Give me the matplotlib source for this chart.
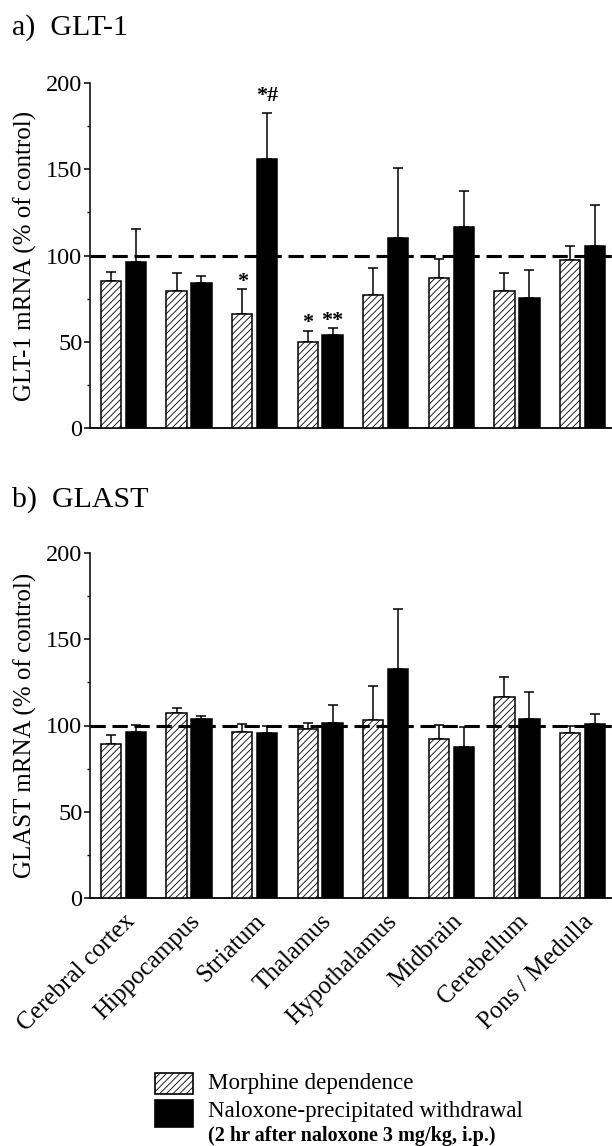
import matplotlib
matplotlib.use("Agg")
import matplotlib.pyplot as plt
import numpy as np
from matplotlib.patches import Rectangle
from matplotlib.ticker import MultipleLocator

plt.rcParams['font.family'] = ['Liberation Serif', 'DejaVu Serif']
plt.rcParams['hatch.linewidth'] = 0.6

regions = ["Cerebral cortex", "Hippocampus", "Striatum", "Thalamus",
           "Hypothalamus", "Midbrain", "Cerebellum", "Pons / Medulla"]

glt1_morphine = [85, 79.5, 66.3, 49.8, 77.2, 86.8, 79.3, 97.3]
glt1_morphine_err = [5.3, 10.5, 14.5, 6.7, 15.7, 11.1, 10.4, 8.3]
glt1_naloxone = [96.2, 83.9, 155.7, 54, 110, 116.3, 75.3, 105.4]
glt1_naloxone_err = [19.1, 4.1, 26.7, 4, 40.8, 21.2, 16.5, 23.9]
glt1_marks_morphine = ["", "", "*", "*", "", "", "", ""]
glt1_marks_naloxone = ["", "", "*#", "**", "", "", "", ""]

glast_morphine = [89.3, 107, 96.3, 98, 103, 92, 116.8, 95.9]
glast_morphine_err = [5.0, 3.4, 4.7, 3.7, 20, 8.3, 11.3, 4.0]
glast_naloxone = [96.1, 103.6, 95.7, 101.6, 132.6, 87.8, 104, 100.9]
glast_naloxone_err = [4.2, 2.1, 4.3, 10.2, 35.1, 11.5, 15.5, 5.5]

series_labels = ["Morphine dependence", "Naloxone-precipitated withdrawal"]
legend_note = "(2 hr after naloxone 3 mg/kg, i.p.)"

W, H = 612, 1146
fig = plt.figure(figsize=(W / 100, H / 100), dpi=100)

def fx(px):
    return px / W

def fy(py):
    return 1 - py / H

x = np.arange(len(regions))
bw = 0.31
off = 0.19
AX_LEFT = 90

def mark(ax, xpos, ytop, label):
    dy = 9 if '#' in label else 1.5
    ax.annotate(label, (xpos, ytop), xytext=(0, dy), textcoords='offset points',
                ha='center', va='baseline', fontsize=16, fontweight='bold')

def panel(top_px, bot_px, m, me, n, ne, ylabel, title, title_y, marks_m=None, marks_n=None, xlabels=False):
    ax = fig.add_axes([fx(AX_LEFT), fy(bot_px), 1 - fx(AX_LEFT), (bot_px - top_px) / H])
    ax.bar(x - off, m, bw, color='white', edgecolor='black', hatch='/////', linewidth=1.1, zorder=3)
    ax.bar(x + off, n, bw, color='black', edgecolor='black', linewidth=1.1, zorder=3)
    ax.errorbar(x - off, m, yerr=[np.zeros(len(m)), me], fmt='none', ecolor='black',
                elinewidth=1.1, capsize=3.5, capthick=1.1, zorder=2)
    ax.errorbar(x + off, n, yerr=[np.zeros(len(n)), ne], fmt='none', ecolor='black',
                elinewidth=1.1, capsize=3.5, capthick=1.1, zorder=2)
    ax.axhline(100, color='black', linestyle=(0, (5, 2.2)), linewidth=2.2, zorder=4)
    ax.set_ylim(0, 200)
    ax.set_xlim(-0.51, 7.45)
    ax.yaxis.set_major_locator(MultipleLocator(50))
    ax.yaxis.set_minor_locator(MultipleLocator(25))
    ax.tick_params(axis='y', which='major', length=4.5, width=1.1, labelsize=17.5, pad=1)
    ax.tick_params(axis='y', which='minor', length=2.5, width=1)
    for s in ['top', 'right']:
        ax.spines[s].set_visible(False)
    ax.spines['left'].set_linewidth(1.1)
    ax.spines['bottom'].set_linewidth(1.3)
    ax.set_xticks(x)
    if xlabels:
        ax.set_xticklabels(regions, rotation=45, ha='right', va='top',
                           rotation_mode='anchor', fontsize=18)
        ax.tick_params(axis='x', length=0, pad=9)
    else:
        ax.set_xticklabels([])
        ax.tick_params(axis='x', length=0)
    if marks_m:
        for i in range(len(x)):
            if marks_m[i]:
                mark(ax, x[i] - off, m[i] + me[i], marks_m[i])
            if marks_n[i]:
                mark(ax, x[i] + off, n[i] + ne[i], marks_n[i])
    fig.text(fx(25), fy((top_px + bot_px) / 2), ylabel, rotation=90, fontsize=18,
             ha='center', va='center')
    fig.text(fx(12), fy(title_y), title, fontsize=21.5, ha='left', va='center')
    return ax

ax1 = panel(83, 428, glt1_morphine, glt1_morphine_err, glt1_naloxone, glt1_naloxone_err,
            "GLT-1 mRNA (% of control)", "a)  GLT-1", 28, glt1_marks_morphine, glt1_marks_naloxone)
ax2 = panel(553, 898, glast_morphine, glast_morphine_err, glast_naloxone, glast_naloxone_err,
            "GLAST mRNA (% of control)", "b)  GLAST", 500, xlabels=True)

# Legend
fig.patches.append(Rectangle((fx(155), fy(1094)), fx(38), 21 / H, transform=fig.transFigure,
                             facecolor='white', edgecolor='black', hatch='/////', linewidth=1.2))
fig.patches.append(Rectangle((fx(155), fy(1127)), fx(38), 27 / H, transform=fig.transFigure,
                             facecolor='black', edgecolor='black', linewidth=1.2))
fig.text(fx(208), fy(1084), series_labels[0], fontsize=16.6, ha='left', va='center')
fig.text(fx(208), fy(1112), series_labels[1], fontsize=16.6, ha='left', va='center')
fig.text(fx(208), fy(1136), legend_note, fontsize=14.5, fontweight='bold', ha='left', va='center')

fig.savefig("out.png", dpi=100)
